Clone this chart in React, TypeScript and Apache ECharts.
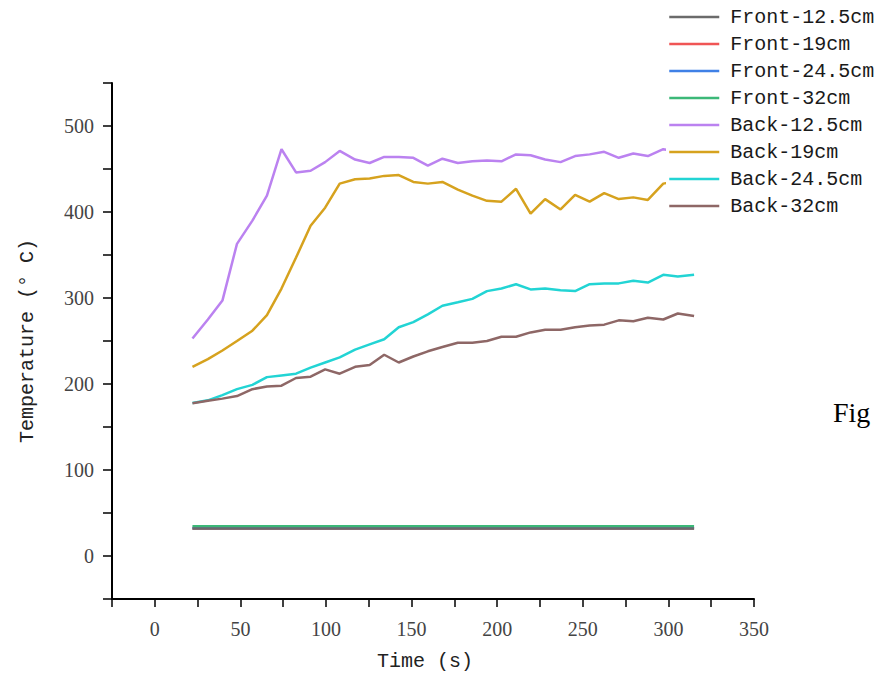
import React, { useEffect, useRef } from 'react';
import * as echarts from 'echarts';

const times = [22, 31, 39.5, 48, 57, 65.5, 74, 82.5, 91, 99.5, 108, 117, 125.5, 134, 142.5, 151, 159.5, 168, 177, 185.5, 194, 202.5, 211, 219.5, 228, 237, 245.5, 254, 262.5, 271, 279.5, 288, 297, 305.5, 315];

const front125 = [32, 32, 32, 32, 32, 32, 32, 32, 32, 32, 32, 32, 32, 32, 32, 32, 32, 32, 32, 32, 32, 32, 32, 32, 32, 32, 32, 32, 32, 32, 32, 32, 32, 32, 32];
const front19 = [32, 32, 32, 32, 32, 32, 32, 32, 32, 32, 32, 32, 32, 32, 32, 32, 32, 32, 32, 32, 32, 32, 32, 32, 32, 32, 32, 32, 32, 32, 32, 32, 32, 32, 32];
const front245 = [32.5, 32.5, 32.5, 32.5, 32.5, 32.5, 32.5, 32.5, 32.5, 32.5, 32.5, 32.5, 32.5, 32.5, 32.5, 32.5, 32.5, 32.5, 32.5, 32.5, 32.5, 32.5, 32.5, 32.5, 32.5, 32.5, 32.5, 32.5, 32.5, 32.5, 32.5, 32.5, 32.5, 32.5, 32.5];
const front32 = [34.5, 34.5, 34.5, 34.5, 34.5, 34.5, 34.5, 34.5, 34.5, 34.5, 34.5, 34.5, 34.5, 34.5, 34.5, 34.5, 34.5, 34.5, 34.5, 34.5, 34.5, 34.5, 34.5, 34.5, 34.5, 34.5, 34.5, 34.5, 34.5, 34.5, 34.5, 34.5, 34.5, 34.5, 34.5];
const back125 = [253, 275, 297, 363, 390, 419, 473, 446, 448, 458, 471, 461, 457, 464, 464, 463, 454, 462, 457, 459, 460, 459, 467, 466, 461, 458, 465, 467, 470, 463, 468, 465, 473, 470, 472];
const back19 = [220, 229, 239, 250, 262, 280, 311, 347, 384, 405, 433, 438, 439, 442, 443, 435, 433, 435, 426, 419, 413, 412, 427, 398, 415, 403, 420, 412, 422, 415, 417, 414, 433, 436, 438];
const back245 = [178, 181, 187, 194, 199, 208, 210, 212, 219, 225, 231, 240, 246, 252, 266, 272, 281, 291, 295, 299, 308, 311, 316, 310, 311, 309, 308, 316, 317, 317, 320, 318, 327, 325, 327];
const back32 = [177.5, 180.5, 183, 186, 194, 197, 198, 207, 208.5, 217, 212, 220, 222, 234, 225, 232, 238, 243, 248, 248, 250, 255, 255, 260, 263, 263, 266, 268, 269, 274, 273, 277, 275, 282, 279];

const seriesNames = ['Front-12.5cm', 'Front-19cm', 'Front-24.5cm', 'Front-32cm', 'Back-12.5cm', 'Back-19cm', 'Back-24.5cm', 'Back-32cm'];
const seriesValues = [front125, front19, front245, front32, back125, back19, back245, back32];
const seriesColors = ['#6b6b6b', '#f05555', '#3f80e6', '#3cb878', '#bb82f0', '#d6a21e', '#22d4d4', '#8e6766'];
const seriesZ = [4, 2, 2, 3, 2, 2, 2, 2];

const monoFont = '"Liberation Mono", monospace';
const numFont = '"Liberation Serif", serif';

export default function App() {
  const ref = useRef<HTMLDivElement>(null);
  useEffect(() => {
    const chart = echarts.init(ref.current!, null, { renderer: 'svg' });
    const option = {
      animation: false,
      backgroundColor: '#fff',
      grid: { left: 112, right: 126, top: 83, bottom: 78, containLabel: false },
      legend: {
        orient: 'vertical',
        left: 666,
        top: 2,
        padding: [5, 5, 5, 2],
        backgroundColor: '#fff',
        itemWidth: 50,
        itemHeight: 20,
        itemGap: 7,
        data: seriesNames,
        itemStyle: { opacity: 0 },
        lineStyle: { width: 2.5 },
        textStyle: { fontFamily: monoFont, fontSize: 20, color: '#1a1a1a', padding: [0, 0, 0, 6] },
      },
      xAxis: {
        type: 'value',
        min: -25,
        max: 350,
        interval: 25,
        name: 'Time (s)',
        nameLocation: 'middle',
        nameGap: 52,
        nameTextStyle: { fontFamily: monoFont, fontSize: 20, color: '#222', padding: [0, 16, 0, 0] },
        axisLine: { show: true, onZero: false, lineStyle: { color: '#000', width: 2 } },
        axisTick: { show: true, inside: false, length: 8, lineStyle: { color: '#000', width: 1.5 } },
        axisLabel: {
          margin: 20,
          fontFamily: numFont,
          fontSize: 20,
          color: '#444',
          formatter: (v: number) => (v % 50 === 0 && v >= 0 ? String(v) : ''),
        },
        splitLine: { show: false },
      },
      yAxis: {
        type: 'value',
        min: -50,
        max: 550,
        interval: 50,
        name: 'Temperature (° C)',
        nameLocation: 'middle',
        nameGap: 75,
        nameTextStyle: { fontFamily: monoFont, fontSize: 20, color: '#222' },
        axisLine: { show: true, onZero: false, lineStyle: { color: '#000', width: 2 } },
        axisTick: { show: true, inside: false, length: 9, lineStyle: { color: '#000', width: 1.5 } },
        axisLabel: {
          margin: 18,
          fontFamily: numFont,
          fontSize: 20,
          color: '#444',
          formatter: (v: number) => (v % 100 === 0 && v >= 0 && v <= 500 ? String(v) : ''),
        },
        splitLine: { show: false },
      },
      graphic: [
        {
          type: 'text',
          x: 833,
          y: 412,
          style: { text: 'Fig', fontFamily: numFont, fontSize: 28, fill: '#000', verticalAlign: 'middle' },
        },
      ],
      series: seriesNames.map((name, i) => ({
        name,
        type: 'line',
        symbol: 'none',
        z: seriesZ[i],
        color: seriesColors[i],
        lineStyle: { color: seriesColors[i], width: 2.5 },
        data: times.map((t, j) => [t, seriesValues[i][j]]),
      })),
    };
    chart.setOption(option);
    return () => chart.dispose();
  }, []);
  return <div ref={ref} style={{ position: 'fixed', left: 0, top: 0, width: 880, height: 677 }} />;
}
